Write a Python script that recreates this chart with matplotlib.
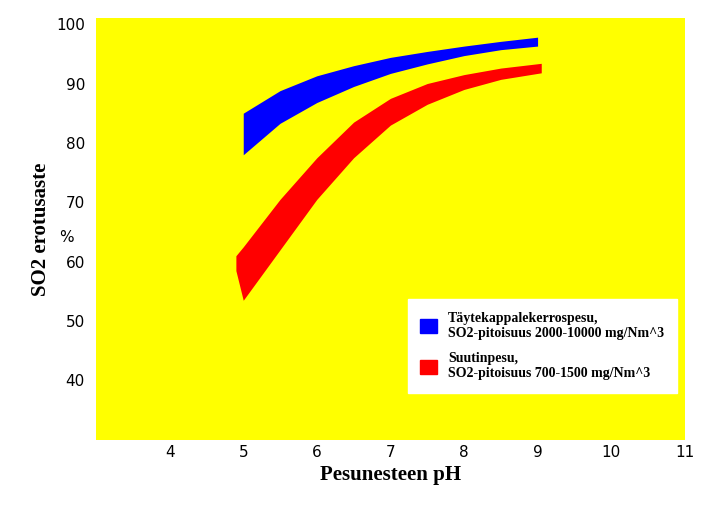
import matplotlib
matplotlib.use("Agg")
import matplotlib.pyplot as plt
from matplotlib.patches import Patch

# Packed-bed scrubber band (blue)
blue_x = [5.0, 5.5, 6.0, 6.5, 7.0, 7.5, 8.0, 8.5, 9.0]
blue_hi = [85.0, 88.8, 91.3, 93.0, 94.4, 95.4, 96.3, 97.1, 97.8]
blue_lo = [78.0, 83.3, 86.8, 89.5, 91.7, 93.3, 94.7, 95.7, 96.3]

# Spray scrubber band (red)
red_x = [4.9, 5.0, 5.5, 6.0, 6.5, 7.0, 7.5, 8.0, 8.5, 9.05]
red_hi = [61.0, 62.5, 70.5, 77.5, 83.5, 87.5, 90.0, 91.5, 92.6, 93.4]
red_lo = [58.5, 53.5, 62.0, 70.5, 77.5, 83.0, 86.5, 89.0, 90.7, 91.8]

x_ticks = [4, 5, 6, 7, 8, 9, 10, 11]
y_ticks = [40, 50, 60, 70, 80, 90, 100]
legend_labels = ["Täytekappalekerrospesu,\nSO2-pitoisuus 2000-10000 mg/Nm^3",
                 "Suutinpesu,\nSO2-pitoisuus 700-1500 mg/Nm^3"]

fig = plt.figure(figsize=(7.17, 5.05), dpi=100)
ax = fig.add_axes([0.134, 0.129, 0.821, 0.835])
ax.set_facecolor("#ffff00")
ax.fill_between(blue_x, blue_lo, blue_hi, color="#0000ff", lw=0)
ax.fill_between(red_x, red_lo, red_hi, color="#ff0000", lw=0)
ax.set_xlim(3, 11)
ax.set_ylim(30, 101)
for s in ax.spines.values():
    s.set_visible(False)
ax.set_xticks(x_ticks)
ax.set_yticks(y_ticks)
ax.tick_params(length=0, labelsize=11)
ax.tick_params(axis="y", pad=8)
ax.text(-0.05, 0.47, "%", transform=ax.transAxes, fontsize=11, ha="center")
ax.set_xlabel("Pesunesteen pH", fontsize=15, fontweight="bold", family="Liberation Serif")
ax.set_ylabel("SO2 erotusaste", fontsize=15, fontweight="bold", family="Liberation Serif")
handles = [Patch(color="#0000ff"), Patch(color="#ff0000")]
leg = ax.legend(handles, legend_labels, loc="lower right", bbox_to_anchor=(0.998, 0.095),
                prop={"family": "Liberation Serif", "weight": "bold", "size": 10},
                frameon=True, fancybox=False, edgecolor="white", framealpha=1,
                handlelength=1.2, handleheight=1.2, labelspacing=0.9, borderpad=0.9)
fig.savefig("out.png", dpi=100)
